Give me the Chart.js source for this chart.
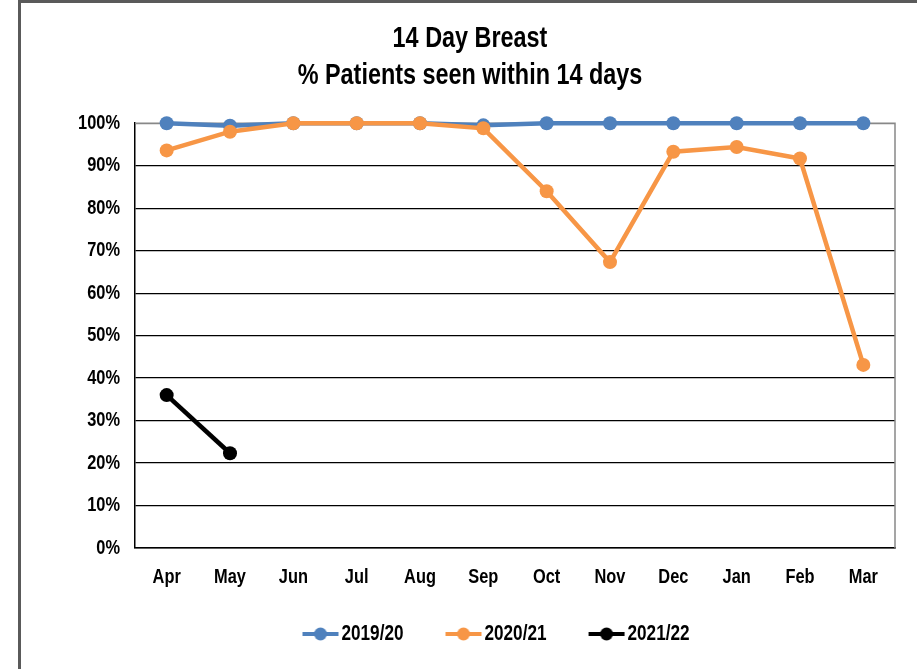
<!DOCTYPE html>
<html>
<head>
<meta charset="utf-8">
<script src="https://cdn.jsdelivr.net/npm/chart.js@4.4.1/dist/chart.umd.min.js"></script>
<style>
  html, body { margin: 0; padding: 0; background: #fff; overflow: hidden; }
  #wrap { position: relative; width: 917px; height: 669px; }
  #frame {
    position: absolute; left: 18px; top: 0; width: 950px; height: 700px;
    border-left: 3px solid #5a5a5a; border-top: 3px solid #5a5a5a;
    pointer-events: none;
  }
  canvas { position: absolute; left: 0; top: 0; }
</style>
</head>
<body>
<div id="wrap">
  <canvas id="chart" width="917" height="669"></canvas>
  <div id="frame"></div>
</div>
<script>
const months = ['Apr', 'May', 'Jun', 'Jul', 'Aug', 'Sep', 'Oct', 'Nov', 'Dec', 'Jan', 'Feb', 'Mar'];
const seenPct1920 = [100, 99.4, 100, 100, 100, 99.5, 100, 100, 100, 100, 100, 100];
const seenPct2021 = [93.6, 98.0, 100, 100, 100, 98.8, 84.0, 67.3, 93.3, 94.4, 91.7, 43.1];
const seenPct2122 = [36.0, 22.3, null, null, null, null, null, null, null, null, null, null];

const FONT = "'Liberation Sans', Arial, sans-serif";
const BLUE = '#4f81bd';
const ORANGE = '#f79646';
const BLACK = '#000000';

// narrow lettering: squeeze every string drawn on this canvas
const SQUEEZE = 0.78;
const canvas = document.getElementById('chart');
const ctx2d = canvas.getContext('2d');
const baseFillText = ctx2d.fillText;
const baseMeasureText = ctx2d.measureText;
ctx2d.fillText = function (text, x, y) {
    this.save();
    this.translate(x, y);
    this.scale(SQUEEZE, 1);
    baseFillText.call(this, text, 0, 0);
    this.restore();
};
ctx2d.measureText = function (text) {
    const m = baseMeasureText.call(this, text);
    return {
        width: m.width * SQUEEZE,
        actualBoundingBoxAscent: m.actualBoundingBoxAscent,
        actualBoundingBoxDescent: m.actualBoundingBoxDescent
    };
};

// legend swatch: short line with a dot, drawn at the right end of a wider blank box
function swatch(color) {
    const c = document.createElement('canvas');
    c.width = 78;
    c.height = 16;
    const g = c.getContext('2d');
    g.strokeStyle = color;
    g.lineWidth = 4;
    g.beginPath();
    g.moveTo(41, 8);
    g.lineTo(77, 8);
    g.stroke();
    g.fillStyle = color;
    g.beginPath();
    g.arc(59, 8, 6.5, 0, Math.PI * 2);
    g.fill();
    return c;
}

function series(label, data, color, order) {
    return {
        label: label,
        data: data,
        order: order,
        borderColor: color,
        backgroundColor: color,
        borderWidth: 4.5,
        pointRadius: 7,
        pointHoverRadius: 7,
        pointBorderWidth: 0,
        pointStyle: 'circle',
        tension: 0,
        clip: false
    };
}

const swatches = [swatch(BLUE), swatch(ORANGE), swatch(BLACK)];

// gray top/right edge of the plot area
const plotFrame = {
    id: 'plotFrame',
    beforeDatasetsDraw(chart) {
        const a = chart.chartArea;
        const ctx = chart.ctx;
        ctx.save();
        ctx.strokeStyle = '#888888';
        ctx.lineWidth = 1.5;
        ctx.beginPath();
        ctx.moveTo(a.left, a.top);
        ctx.lineTo(a.right, a.top);
        ctx.lineTo(a.right, a.bottom);
        ctx.stroke();
        ctx.restore();
    }
};

// nudge the legend row to the right
const legendShift = {
    id: 'legendShift',
    afterLayout(chart) {
        chart.legend.left += 10;
        chart.legend.right += 10;
    }
};

new Chart(canvas, {
    type: 'line',
    data: {
        labels: months,
        datasets: [
            series('2019/20', seenPct1920, BLUE, 2),
            series('2020/21', seenPct2021, ORANGE, 1),
            series('2021/22', seenPct2122, BLACK, 0)
        ]
    },
    plugins: [plotFrame, legendShift],
    options: {
        responsive: false,
        animation: false,
        layout: { padding: { left: 45, right: 22, top: 4, bottom: 14 } },
        plugins: {
            tooltip: { enabled: false },
            title: {
                display: true,
                text: ['14 Day Breast', '% Patients seen within 14 days'],
                color: '#000',
                font: { family: FONT, size: 30, weight: 'bold', lineHeight: 1.237 },
                padding: { top: 16, bottom: 29 }
            },
            legend: {
                position: 'bottom',
                labels: {
                    usePointStyle: true,
                    pointStyleWidth: 60,
                    color: '#000',
                    font: { family: FONT, size: 22, weight: 'bold' },
                    padding: 10,
                    generateLabels(ch) {
                        return ch.data.datasets.map((ds, i) => ({
                            text: ds.label,
                            pointStyle: swatches[i],
                            fillStyle: ds.borderColor,
                            strokeStyle: ds.borderColor,
                            lineWidth: 0,
                            hidden: false,
                            datasetIndex: i
                        }));
                    }
                }
            }
        },
        scales: {
            x: {
                offset: true,
                afterFit(scale) { scale.height = 65; },
                grid: { display: false, drawTicks: false },
                border: { display: true, color: '#000', width: 1.5 },
                ticks: {
                    color: '#000',
                    padding: 17,
                    maxRotation: 0,
                    font: { family: FONT, size: 21, weight: 'bold' }
                }
            },
            y: {
                min: 0,
                max: 100,
                afterFit(scale) { scale.width = 90; },
                grid: {
                    drawTicks: false,
                    color: ctx => ctx.tick && ctx.tick.value === 100 ? '#888888' : '#000000',
                    lineWidth: 1.2
                },
                border: { display: true, color: '#000', width: 1.5 },
                ticks: {
                    stepSize: 10,
                    color: '#000',
                    padding: 15,
                    font: { family: FONT, size: 21, weight: 'bold' },
                    callback: v => v + '%'
                }
            }
        }
    }
});
</script>
</body>
</html>
